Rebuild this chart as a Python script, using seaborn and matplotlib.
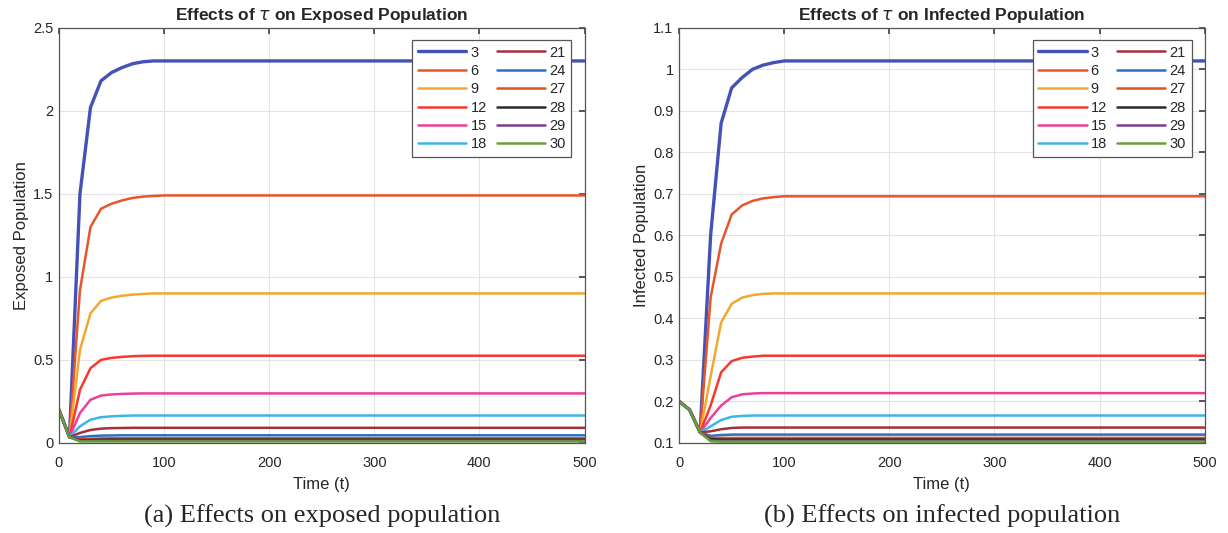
import numpy as np
import pandas as pd
import matplotlib
matplotlib.use('Agg')
import matplotlib.pyplot as plt
import seaborn as sns
from matplotlib.ticker import FormatStrFormatter, MultipleLocator

# 시간축 (t=100 이후는 평탄)
t = [0, 10, 20, 30, 40, 50, 60, 70, 80, 90, 100, 500]
taus = [3, 6, 9, 12, 15, 18, 21, 24, 27, 28, 29, 30]

# Exposed population
e3 = [0.2, 0.035, 1.50, 2.02, 2.18, 2.23, 2.26, 2.283, 2.295, 2.30, 2.30, 2.30]
e6 = [0.2, 0.035, 0.92, 1.30, 1.41, 1.44, 1.46, 1.475, 1.483, 1.487, 1.49, 1.49]
e9 = [0.2, 0.035, 0.56, 0.78, 0.855, 0.875, 0.886, 0.893, 0.897, 0.90, 0.90, 0.90]
e12 = [0.2, 0.035, 0.32, 0.45, 0.50, 0.512, 0.518, 0.522, 0.524, 0.525, 0.525, 0.525]
e15 = [0.2, 0.035, 0.18, 0.26, 0.285, 0.292, 0.295, 0.297, 0.298, 0.298, 0.298, 0.298]
e18 = [0.2, 0.035, 0.10, 0.14, 0.155, 0.16, 0.163, 0.165, 0.165, 0.165, 0.165, 0.165]
e21 = [0.2, 0.035, 0.06, 0.078, 0.086, 0.089, 0.09, 0.091, 0.091, 0.091, 0.091, 0.091]
e24 = [0.2, 0.035, 0.035, 0.041, 0.044, 0.045, 0.046, 0.046, 0.046, 0.046, 0.046, 0.046]
e27 = [0.2, 0.035, 0.022, 0.025, 0.027, 0.028, 0.028, 0.028, 0.028, 0.028, 0.028, 0.028]
e28 = [0.2, 0.035, 0.016, 0.018, 0.02, 0.02, 0.02, 0.02, 0.02, 0.02, 0.02, 0.02]
e29 = [0.2, 0.035, 0.012, 0.013, 0.014, 0.014, 0.014, 0.014, 0.014, 0.014, 0.014, 0.014]
e30 = [0.2, 0.035, 0.009, 0.009, 0.009, 0.009, 0.009, 0.009, 0.009, 0.009, 0.009, 0.009]

# Infected population
i3 = [0.2, 0.18, 0.125, 0.60, 0.87, 0.955, 0.98, 1.0, 1.01, 1.016, 1.02, 1.02]
i6 = [0.2, 0.18, 0.125, 0.45, 0.58, 0.65, 0.672, 0.683, 0.689, 0.692, 0.694, 0.694]
i9 = [0.2, 0.18, 0.125, 0.26, 0.39, 0.435, 0.45, 0.456, 0.459, 0.46, 0.46, 0.46]
i12 = [0.2, 0.18, 0.125, 0.19, 0.27, 0.297, 0.305, 0.308, 0.31, 0.31, 0.31, 0.31]
i15 = [0.2, 0.18, 0.125, 0.16, 0.19, 0.21, 0.217, 0.219, 0.22, 0.22, 0.22, 0.22]
i18 = [0.2, 0.18, 0.125, 0.14, 0.155, 0.163, 0.165, 0.166, 0.166, 0.166, 0.166, 0.166]
i21 = [0.2, 0.18, 0.125, 0.128, 0.133, 0.136, 0.137, 0.137, 0.137, 0.137, 0.137, 0.137]
i24 = [0.2, 0.18, 0.125, 0.117, 0.119, 0.12, 0.12, 0.12, 0.12, 0.12, 0.12, 0.12]
i27 = [0.2, 0.18, 0.125, 0.112, 0.112, 0.112, 0.112, 0.112, 0.112, 0.112, 0.112, 0.112]
i28 = [0.2, 0.18, 0.125, 0.109, 0.108, 0.108, 0.108, 0.108, 0.108, 0.108, 0.108, 0.108]
i29 = [0.2, 0.18, 0.125, 0.106, 0.105, 0.105, 0.105, 0.105, 0.105, 0.105, 0.105, 0.105]
i30 = [0.2, 0.18, 0.125, 0.104, 0.103, 0.103, 0.103, 0.103, 0.103, 0.103, 0.103, 0.103]

exposed = [e3, e6, e9, e12, e15, e18, e21, e24, e27, e28, e29, e30]
infected = [i3, i6, i9, i12, i15, i18, i21, i24, i27, i28, i29, i30]

colors = ['#4452B8', '#E8552C', '#F0A830', '#F5392F', '#EE3F98', '#3DB5EA',
          '#A3303A', '#2F6EC0', '#E0502A', '#2A2A2A', '#7B3A94', '#66A03A']

sns.set_theme(style='whitegrid')
plt.rcParams['font.family'] = ['Liberation Sans', 'DejaVu Sans']
plt.rcParams['mathtext.fontset'] = 'dejavusans'

fig = plt.figure(figsize=(12.28, 5.33), dpi=100)
ax1 = fig.add_axes([0.048, 0.169, 0.428, 0.779])
ax2 = fig.add_axes([0.553, 0.169, 0.428, 0.779])


def draw(ax, series, title, ylabel, ylim, ystep):
    for tau, ys, c in zip(taus, series, colors):
        lw = 2.4 if tau == 3 else 1.8
        sns.lineplot(x=t, y=ys, ax=ax, color=c, linewidth=lw, label=str(tau))
    ax.set_xlim(0, 500)
    ax.set_ylim(*ylim)
    ax.xaxis.set_major_locator(MultipleLocator(100))
    ax.yaxis.set_major_locator(MultipleLocator(ystep))
    ax.yaxis.set_major_formatter(FormatStrFormatter('%g'))
    ax.set_title(title, fontsize=12.5, fontweight='bold', pad=5.5)
    ax.set_xlabel('Time (t)', fontsize=12, labelpad=5)
    ax.set_ylabel(ylabel, fontsize=12, labelpad=3)
    ax.tick_params(axis='both', labelsize=10.5, direction='in', length=4,
                   top=True, right=True, color='#444444')
    ax.tick_params(axis='x', pad=9.5)
    ax.tick_params(axis='y', pad=4)
    ax.grid(True, color='#E3E3E3', linewidth=0.8)
    for s in ax.spines.values():
        s.set_color('#555555')
        s.set_linewidth(0.9)
    leg = ax.legend(ncol=2, loc='upper right', bbox_to_anchor=(0.975, 0.971),
                    borderaxespad=0, fontsize=10.5, handlelength=3.3,
                    handletextpad=0.28, columnspacing=0.7, labelspacing=0.3,
                    borderpad=0.4, fancybox=False, framealpha=1,
                    edgecolor='#555555')
    leg.get_frame().set_linewidth(0.9)


draw(ax1, exposed, r'Effects of $\tau$ on Exposed Population', 'Exposed Population',
     (0, 2.5), 0.5)
draw(ax2, infected, r'Effects of $\tau$ on Infected Population', 'Infected Population',
     (0.1, 1.1), 0.1)

fig.text(0.262, 0.032, '(a) Effects on exposed population', ha='center', va='center',
         fontsize=19, family='Liberation Serif')
fig.text(0.767, 0.032, '(b) Effects on infected population', ha='center', va='center',
         fontsize=19, family='Liberation Serif')

fig.savefig('out.png', dpi=100)
